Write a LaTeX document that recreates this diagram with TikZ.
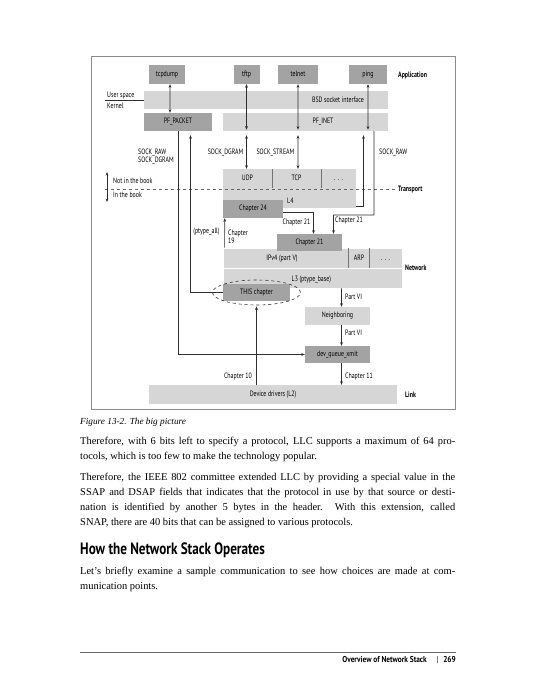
\documentclass[tikz,border=0pt]{standalone}
\usepackage{fontspec}
\setmainfont{Liberation Serif}
\newfontfamily\dgf[FakeStretch=0.76]{PT Sans}
\newfontfamily\hdf[FakeStretch=0.8]{PT Sans}
\newfontfamily\ftf[FakeStretch=0.86]{PT Sans}
\usetikzlibrary{arrows.meta,shapes.geometric}
\definecolor{ltg}{gray}{0.84}
\definecolor{dkg}{gray}{0.64}
\definecolor{lnc}{gray}{0.18}
\definecolor{sepc}{gray}{0.45}
\tikzset{
  dgfont/.style={font=\dgf\fontsize{7.8}{8.5}\selectfont},
  ltbox/.style={fill=ltg, draw=none, inner sep=0pt, dgfont, text height=5.6bp, text depth=1.7bp},
  dkbox/.style={fill=dkg, draw=none, inner sep=0pt, dgfont, text height=5.6bp, text depth=1.7bp},
  lbl/.style={inner sep=0pt, dgfont},
  lblb/.style={inner sep=0pt, font=\dgf\fontsize{7.8}{8.5}\selectfont\bfseries},
  conn/.style={draw=lnc, line width=0.6bp},
  arr/.style={conn, -{Stealth[length=3.6bp,width=2.8bp]}},
  dbl/.style={conn, {Stealth[length=3.6bp,width=2.8bp]}-{Stealth[length=3.6bp,width=2.8bp]}},
  sep/.style={draw=sepc, line width=0.8bp},
  body/.style={inner sep=0pt, anchor=base west, font=\fontsize{10.5}{15}\selectfont},
}
\begin{document}
\begin{tikzpicture}[x=1bp,y=-1bp]
\useasboundingbox (0,0) rectangle (533,700);

% frame
\draw[black!45, line width=1bp] (91,57) rectangle (455,409);

% light boxes
\node[ltbox, minimum width=244bp, minimum height=18bp] (bsd) at (266,100) {};
\node[ltbox, minimum width=165bp, minimum height=18bp] (pfinet) at (305.5,122) {};
\node[ltbox, minimum width=133bp, minimum height=39bp] (l4box) at (289.5,188.5) {};
\node[ltbox, draw=white, line width=0.8bp, minimum width=179bp, minimum height=20bp] (ipv4) at (312.5,258) {};
\node[ltbox, draw=white, line width=0.8bp, minimum width=179bp, minimum height=20bp] (l3) at (312.5,278) {};
\node[ltbox, minimum width=65bp, minimum height=18bp] (neigh) at (337.5,316) {Neighboring};
\node[ltbox, minimum width=248bp, minimum height=19bp] (drivers) at (273,394.5) {Device drivers (L2)};

% dark boxes
\node[dkbox, minimum width=36bp, minimum height=19bp] (tcpdump) at (167,74.5) {tcpdump};
\node[dkbox, minimum width=26bp, minimum height=19bp] (tftp) at (246.5,74.5) {tftp};
\node[dkbox, minimum width=40bp, minimum height=19bp] (telnet) at (298,74.5) {telnet};
\node[dkbox, minimum width=38bp, minimum height=19bp] (ping) at (368,74.5) {ping};
\node[dkbox, minimum width=68bp, minimum height=18bp] (pfpacket) at (178,122) {PF\_PACKET};
\node[dkbox, minimum width=60bp, minimum height=18bp] (ch24) at (253,209) {Chapter 24};
\node[dkbox, minimum width=65bp, minimum height=17bp] (ch21) at (309.5,242.5) {Chapter 21};
\node[dkbox, minimum width=67bp, minimum height=17bp] (thisch) at (256.5,292.5) {THIS chapter};
\node[dkbox, minimum width=65bp, minimum height=17bp] (devq) at (337.5,354.5) {dev\_queue\_xmit};

% separators
\draw[sep] (272.5,169) -- (272.5,188);
\draw[sep] (321,169) -- (321,188);
\draw[sep] (348.5,248) -- (348.5,268);
\draw[sep] (369.5,248) -- (369.5,268);

% box labels
\node[lbl] (bsdlbl) at (338,100) {BSD socket interface};
\node[lbl] (pfinetlbl) at (323,122) {PF\_INET};
\node[lbl, anchor=base] (udp) at (247.5,180) {UDP};
\node[lbl, anchor=base] (tcp) at (296.5,180) {TCP};
\node[lbl, anchor=base] (tdots) at (338.5,180) {.\,\,.\,\,.};
\node[lbl, anchor=base west] (l4lbl) at (287,203.5) {L4};
\node[lbl, anchor=base] (ipv4lbl) at (282,260.5) {IPv4 (part V)};
\node[lbl, anchor=base] (arplbl) at (359,260.5) {ARP};
\node[lbl, anchor=base] (ndots) at (385.5,260.5) {.\,\,.\,\,.};
\node[lbl, anchor=base west] (l3lbl) at (291.5,281.5) {L3 (ptype\_base)};

% dashed ellipse
\node[ellipse, draw=lnc, dashed, line width=0.6bp, minimum width=88bp, minimum height=25bp, inner sep=0pt] (ell) at (256.5,292.5) {};

% named free ends
\coordinate (us1) at (105,100);
\coordinate (tr1) at (105,189);
\coordinate (tr2) at (397,189);
\coordinate (nib1) at (107,172);
\coordinate (nib2) at (107,202);
\coordinate (rawbend) at (333.5,215);

% dashed transport line
\draw[draw=black!60, dashed, line width=0.6bp] (tr1) -- (tr2);
\draw[conn] (us1) -- (bsd.west);
\draw[dbl] (nib1) -- (nib2);

% application arrows
\draw[dbl] ([xshift=3bp]tcpdump.south) -- ([xshift=-8bp]pfpacket.north);
\draw[dbl] (tftp.south) -- ([xshift=-59bp,yshift=1.5bp]pfinet.south);
\draw[dbl] (telnet.south) -- ([xshift=-7.5bp,yshift=1.5bp]pfinet.south);
\draw[dbl] (ping.south) -- ([xshift=62.5bp,yshift=1.5bp]pfinet.south);

% socket arrows
\draw[dbl] ([xshift=-59bp,yshift=-4bp]pfinet.south) -- ([xshift=-43bp]l4box.north);
\draw[dbl] ([xshift=-7.5bp,yshift=-4bp]pfinet.south) -- ([xshift=8.5bp]l4box.north);

% PF_PACKET paths
\draw[arr] (pfpacket.south) |- (devq.west);
\draw[arr] (thisch.west) -| ([xshift=12.5bp,yshift=-4bp]pfpacket.south);

% SOCK_RAW paths
\draw[arr] ([xshift=68.5bp]pfinet.south) |- (rawbend) -- ([xshift=24bp]ch21.north);
\draw[arr] ([yshift=-17.5bp]l4box.east) -| ([xshift=58bp,yshift=-4bp]pfinet.south);

% chapter links
\draw[arr] ([yshift=-3.5bp]ch24.east) -| ([xshift=4bp]ch21.north);
\draw[arr] ([xshift=2bp]ipv4.north west) -- ([xshift=2bp]ch24.south west);
\draw[arr] ([xshift=29bp]l3.south) -- ([xshift=4bp]neigh.north);
\draw[arr] ([xshift=4bp]neigh.south) -- ([xshift=4bp]devq.north);
\draw[arr] ([xshift=4bp]devq.south) -- ([xshift=68.5bp]drivers.north);
\draw[arr] ([xshift=-16.5bp]drivers.north) -- ([yshift=-1bp]ell.south);

% labels
\node[lbl, anchor=base west] (uspace) at (107,97.5) {User space};
\node[lbl, anchor=base west] (kernel) at (107,109) {Kernel};
\node[lblb, anchor=base west] (appl) at (398,77.5) {Application};
\node[lbl, anchor=base west] (sraw1) at (138,154) {SOCK\_RAW};
\node[lbl, anchor=base west] (sdg1) at (138,162) {SOCK\_DGRAM};
\node[lbl, anchor=base east] (sdg2) at (243.5,154) {SOCK\_DGRAM};
\node[lbl, anchor=base east] (sst) at (294.5,154) {SOCK\_STREAM};
\node[lbl, anchor=base west] (sraw2) at (379,154) {SOCK\_RAW};
\node[lbl, anchor=base west] (notbook) at (113,183.5) {Not in the book};
\node[lbl, anchor=base west] (inbook) at (113,197.5) {In the book};
\node[lblb, anchor=base west] (transp) at (398,191) {Transport};
\node[lbl, anchor=base] (c21a) at (296.5,224.5) {Chapter 21};
\node[lbl, anchor=base] (c21b) at (349,222) {Chapter 21};
\node[lbl, anchor=base] (ptall) at (206.5,233.5) {(ptype\_all)};
\node[lbl, anchor=base west] (c19a) at (228,235) {Chapter};
\node[lbl, anchor=base west] (c19b) at (228,243.5) {19};
\node[lblb, anchor=base west] (netw) at (405,270) {Network};
\node[lbl, anchor=base west] (pvi1) at (345,299) {Part VI};
\node[lbl, anchor=base west] (pvi2) at (345,335.5) {Part VI};
\node[lbl, anchor=base east] (c10) at (252,378.5) {Chapter 10};
\node[lbl, anchor=base west] (c11) at (345,378.5) {Chapter 11};
\node[lblb, anchor=base west] (link) at (405,397) {Link};

% page text
\node[inner sep=0pt, anchor=base west, font=\fontsize{9.3}{11}\selectfont\itshape] (cap) at (80,424) {Figure 13-2. The big picture};
\node[body] (p1a) at (80,444) {\makebox[375bp][s]{Therefore, with 6 bits left to specify a protocol, LLC supports a maximum of 64 pro-}};
\node[body] (p1b) at (80,459) {tocols, which is too few to make the technology popular.};
\node[body] (p2a) at (80,480) {\makebox[375bp][s]{Therefore, the IEEE 802 committee extended LLC by providing a special value in the}};
\node[body] (p2b) at (80,495) {\makebox[375bp][s]{SSAP and DSAP fields that indicates that the protocol in use by that source or desti-}};
\node[body] (p2c) at (80,510) {\makebox[375bp][s]{nation is identified by another 5 bytes in the header. With this extension, called}};
\node[body] (p2d) at (80,525) {SNAP, there are 40 bits that can be assigned to various protocols.};
\node[inner sep=0pt, anchor=base west, font=\hdf\fontsize{16.5}{18}\selectfont\bfseries] (head) at (80,554) {How the Network Stack Operates};
\node[body] (p3a) at (80,574) {\makebox[375bp][s]{Let’s briefly examine a sample communication to see how choices are made at com-}};
\node[body] (p3b) at (80,589) {munication points.};

% footer
\coordinate (fr1) at (80,652);
\coordinate (fr2) at (456,652);
\draw[black!60, line width=0.5bp] (fr1) -- (fr2);
\node[inner sep=0pt, anchor=base east, font=\ftf\fontsize{8.6}{9}\selectfont\bfseries] (foot) at (427,662) {Overview of Network Stack};
\node[inner sep=0pt, anchor=base, font=\ftf\fontsize{8.6}{9}\selectfont] (fbar) at (437.5,662) {|};
\node[inner sep=0pt, anchor=base east, font=\ftf\fontsize{8.6}{9}\selectfont\bfseries] (pnum) at (456,662) {269};
\end{tikzpicture}
\end{document}
